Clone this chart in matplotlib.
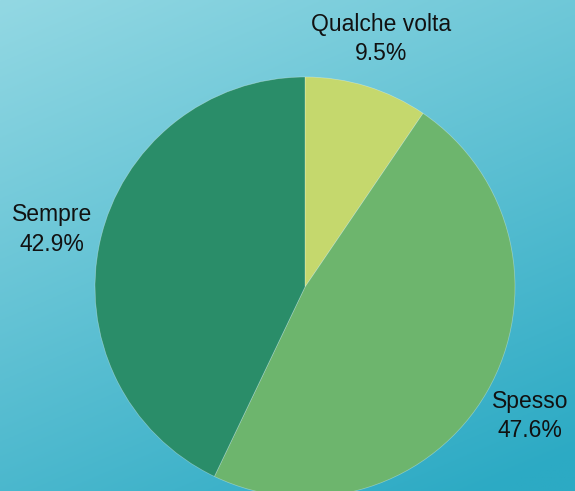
import numpy as np
import matplotlib.pyplot as plt

# Dati del grafico
categorie = ['Qualche volta', 'Spesso', 'Sempre']
percentuali = [9.5, 47.6, 42.9]
colori = ['#c5d86d', '#6db56d', '#2a8d69']

W, H = 575, 491
fig = plt.figure(figsize=(W / 100, H / 100), dpi=100)
ax = fig.add_axes([0, 0, 1, 1])

# Sfondo: gradiente turchese (chiaro in alto, più scuro in basso a destra)
yy, xx = np.mgrid[0:1:200j, 0:1:240j]
t = np.clip(0.35 * xx + 0.7 * yy, 0, 1)
c1 = np.array([0x93, 0xd8, 0xe3]) / 255
c2 = np.array([0x2c, 0xaa, 0xc4]) / 255
bg = c1 + (c2 - c1) * t[..., None]
ax.imshow(bg, extent=[0, W, 0, H], origin='upper', aspect='auto', zorder=0)

etichette = [f'{c}\n{p}%' for c, p in zip(categorie, percentuali)]
wedges, testi = ax.pie(percentuali, labels=etichette, colors=colori,
                       startangle=90, counterclock=False,
                       center=(305, H - 287), radius=210,
                       labeldistance=1.235, frame=True,
                       wedgeprops=dict(edgecolor=(1, 1, 1, 0.35), linewidth=0.5),
                       textprops=dict(fontsize=16.5, family='Liberation Sans',
                                      color='#111111', linespacing=1.35))
for t in testi:
    t.set_ha('center')
    t.set_va('center')

ax.set_xlim(0, W)
ax.set_ylim(0, H)
ax.set_aspect('equal')
ax.axis('off')

fig.savefig('out.png', dpi=100)
